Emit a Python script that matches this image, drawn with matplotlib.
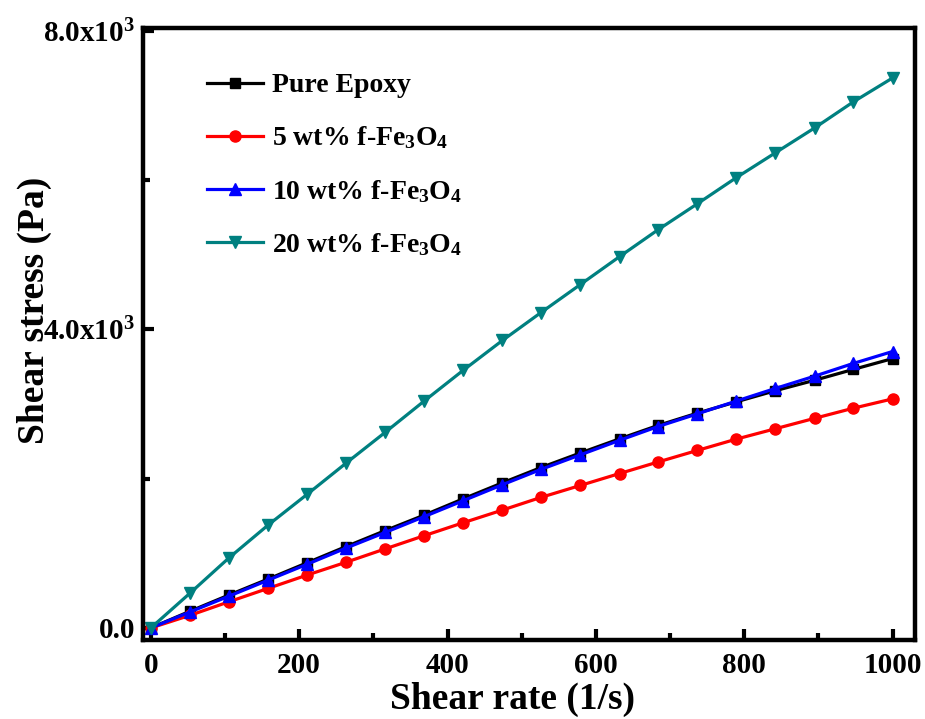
import matplotlib
matplotlib.use('Agg')
import matplotlib.pyplot as plt
import numpy as np
from matplotlib.ticker import MultipleLocator, FixedLocator

# Données
shear_rate = [0, 53, 105, 158, 211, 263, 316, 368, 421, 474,
              526, 579, 632, 684, 737, 789, 842, 895, 947, 1000]
pure_epoxy = [0, 225, 440, 655, 875, 1090, 1305, 1510, 1730, 1945,
              2150, 2345, 2535, 2715, 2880, 3030, 3180, 3320, 3465, 3610]
fe5 = [0, 170, 350, 530, 710, 880, 1060, 1235, 1410, 1580,
       1750, 1910, 2070, 2225, 2380, 2530, 2670, 2810, 2945, 3070]
fe10 = [0, 215, 425, 640, 855, 1070, 1280, 1490, 1705, 1920,
        2125, 2320, 2515, 2700, 2870, 3040, 3210, 3375, 3545, 3705]
fe20 = [0, 468, 936, 1378, 1793, 2207, 2622, 3037, 3452, 3853,
        4227, 4602, 4977, 5338, 5686, 6033, 6368, 6702, 7050, 7371]

y_ticks = [0, 4000, 8000]
y_ticklabels = ['0.0', r'4.0x10$^3$', r'8.0x10$^3$']
x_ticks = [0, 200, 400, 600, 800, 1000]

plt.rcParams['font.family'] = 'Liberation Serif'
plt.rcParams['font.weight'] = 'bold'
plt.rcParams['mathtext.fontset'] = 'custom'
plt.rcParams['mathtext.rm'] = 'Liberation Serif:bold'
plt.rcParams['mathtext.it'] = 'Liberation Serif:bold'
plt.rcParams['mathtext.bf'] = 'Liberation Serif:bold'
plt.rcParams['mathtext.default'] = 'rm'

fig = plt.figure(figsize=(9.25, 7.19), dpi=100)
ax = fig.add_axes([0.155, 0.110, 0.834, 0.851])

lw = 2.3
ms = 8
ax.plot(shear_rate, pure_epoxy, '-s', color='black', lw=lw, ms=ms - 1, label='Pure Epoxy')
ax.plot(shear_rate, fe5, '-o', color='#ff0000', lw=lw, ms=ms, label=r'5 wt% f-Fe$_3$O$_4$')
ax.plot(shear_rate, fe10, '-^', color='#0000ff', lw=lw, ms=ms + 1, label=r'10 wt% f-Fe$_3$O$_4$')
ax.plot(shear_rate, fe20, '-v', color='#008080', lw=lw, ms=ms + 1, label=r'20 wt% f-Fe$_3$O$_4$')

ax.set_xlim(-10, 1030)
ax.set_ylim(-160, 8040)

ax.xaxis.set_major_locator(FixedLocator(x_ticks))
ax.xaxis.set_minor_locator(MultipleLocator(100))
ax.yaxis.set_major_locator(FixedLocator(y_ticks))
ax.set_yticklabels(y_ticklabels)
ax.yaxis.set_minor_locator(MultipleLocator(2000))

ax.tick_params(which='both', direction='in', width=3, labelsize=21)
ax.tick_params(which='major', length=8)
ax.tick_params(which='minor', length=5)
ax.tick_params(axis='x', pad=9)
ax.tick_params(axis='y', pad=6)
for s in ax.spines.values():
    s.set_linewidth(3.2)

ax.set_xlabel('Shear rate (1/s)', fontsize=27, fontweight='bold')
ax.set_ylabel('Shear stress (Pa)', fontsize=27, fontweight='bold')
ax.xaxis.set_label_coords(0.479, -0.068)
ax.yaxis.set_label_coords(-0.118, 0.538)

leg = ax.legend(loc='upper left', frameon=False, fontsize=20, handlelength=2.0,
                labelspacing=0.95, bbox_to_anchor=(0.068, 0.945), borderaxespad=0,
                handletextpad=0.35)

fig.savefig('out.png', dpi=100)
